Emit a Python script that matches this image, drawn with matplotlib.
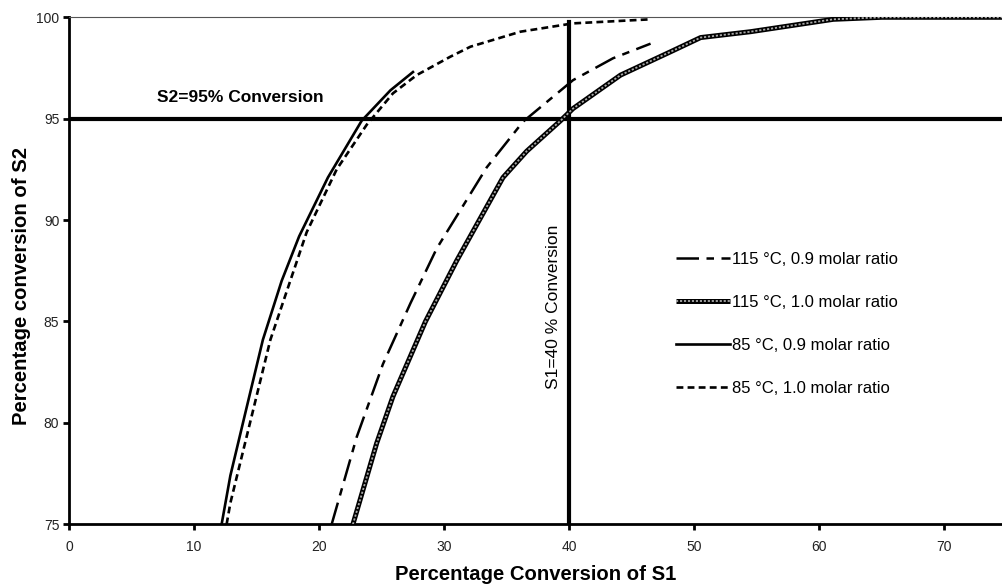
import matplotlib
matplotlib.use("Agg")
import matplotlib.pyplot as plt

plt.rcParams['font.family'] = ['Liberation Sans', 'DejaVu Sans']

# curves (S1 conversion %, S2 conversion %)
x_115_09 = [21.0, 23.0, 25.1, 27.3, 29.4, 33.4, 36.3, 40.3, 43.5, 46.5]
y_115_09 = [75.0, 79.3, 82.9, 85.9, 88.6, 92.6, 94.85, 96.9, 97.98, 98.7]

x_115_10 = [22.7, 24.6, 25.9, 28.5, 31.0, 34.7, 36.6, 39.3, 40.3, 44.1, 48.1, 50.5, 54.5, 61.1, 65.0, 74.6]
y_115_10 = [75.0, 79.0, 81.3, 85.0, 88.0, 92.1, 93.4, 94.9, 95.5, 97.15, 98.3, 99.0, 99.29, 99.9, 100.0, 100.0]

x_85_09 = [12.2, 12.9, 14.1, 15.5, 17.0, 18.4, 20.7, 23.4, 25.7, 27.5]
y_85_09 = [75.0, 77.4, 80.5, 84.1, 87.0, 89.2, 92.1, 94.9, 96.4, 97.3]

x_85_10 = [12.6, 12.9, 16.1, 19.0, 21.4, 23.8, 25.9, 27.8, 30.5, 32.1, 36.1, 40.3, 46.5]
y_85_10 = [75.0, 76.05, 84.1, 89.4, 92.5, 94.7, 96.25, 97.15, 98.06, 98.55, 99.29, 99.7, 99.9]

labels = ['115 °C, 0.9 molar ratio', '115 °C, 1.0 molar ratio',
          '85 °C, 0.9 molar ratio', '85 °C, 1.0 molar ratio']

s2_target = 95
s1_target = 40
s1_line_top = 99.75

xticks = [0, 10, 20, 30, 40, 50, 60, 70]
yticks = [75, 80, 85, 90, 95, 100]

fig = plt.figure(figsize=(10.02, 5.86), dpi=100)
ax = fig.add_axes([0.0689, 0.1053, 0.9311, 0.8652])

# reference lines
ax.axhline(s2_target, color='black', lw=3.0, zorder=2)
ax.plot([s1_target, s1_target], [75, s1_line_top], color='black', lw=3.0, zorder=2)

l1, = ax.plot(x_115_09, y_115_09, color='black', lw=1.8,
              dashes=(9, 3, 3, 3), zorder=3)
l2a, = ax.plot(x_115_10, y_115_10, color='black', lw=3.6, zorder=3,
               solid_capstyle='butt')
l2b, = ax.plot(x_115_10, y_115_10, color='#a8a8a8', lw=1.3, zorder=4,
               dashes=(1.2, 1.0))
l3, = ax.plot(x_85_09, y_85_09, color='black', lw=1.9, zorder=3)
l4, = ax.plot(x_85_10, y_85_10, color='black', lw=1.9, dashes=(2.6, 1.6), zorder=3)

ax.text(13.7, 96.05, 'S2=95% Conversion', fontsize=12.5, fontweight='bold',
        ha='center', va='center')
ax.text(38.7, 85.7, 'S1=40 % Conversion', fontsize=12.5, rotation=90,
        ha='center', va='center')

ax.legend([l1, (l2a, l2b), l3, l4], labels, loc='upper left',
          bbox_to_anchor=(0.651, 0.537), frameon=False, fontsize=12,
          handlelength=3.2, handletextpad=0.15, labelspacing=1.68,
          borderpad=0, borderaxespad=0)

ax.set_xlim(0, 74.6)
ax.set_ylim(75, 100)
ax.set_xticks(xticks)
ax.set_yticks(yticks)
ax.tick_params(axis='both', direction='out', length=4, width=2,
               labelsize=10, colors='black', labelcolor='#222222')
ax.tick_params(axis='x', pad=7)
ax.tick_params(axis='y', pad=3)

for side in ['left', 'bottom']:
    ax.spines[side].set_linewidth(2)
ax.spines['right'].set_visible(False)
ax.spines['top'].set_linewidth(0.8)
ax.spines['top'].set_color('#555555')

ax.set_xlabel('Percentage Conversion of S1', fontsize=14.6, fontweight='bold',
              labelpad=8)
ax.set_ylabel('Percentage conversion of S2', fontsize=14.6, fontweight='bold')
ax.yaxis.set_label_coords(-0.041, 0.47)

fig.savefig('out.png', dpi=100)
